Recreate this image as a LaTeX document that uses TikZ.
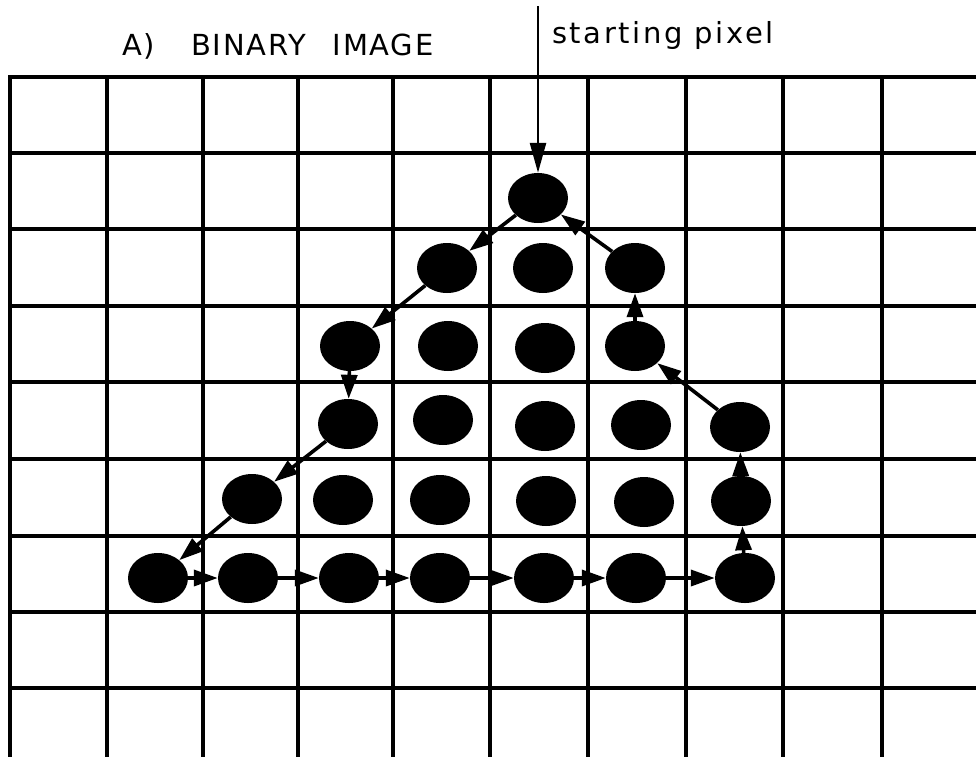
\documentclass[tikz,border=0pt]{standalone}
\usepackage{fontspec}
\setmainfont{DejaVu Sans}
\newfontfamily\titlefont[LetterSpace=6]{DejaVu Sans}
\newfontfamily\labelfont[LetterSpace=9]{DejaVu Sans}
\usetikzlibrary{arrows.meta,shapes.geometric}
\begin{document}
\begin{tikzpicture}[x=1pt,y=-1pt,
  gridline/.style={line width=3.2pt},
  pix/.style={ellipse,fill=black,minimum width=60pt,minimum height=50pt,inner sep=0pt},
  link/.style={line width=3.6pt,-{Triangle[length=24pt,width=16pt]}},
  startlink/.style={line width=2.6pt,-{Triangle[length=30pt,width=16pt]}},
  lbl/.style={anchor=base west,inner sep=0pt}]
\useasboundingbox (0,0) rectangle (976,763);
% grid
\foreach \x in {10,107,203,298,393,490,588,686,783,882}
  \draw[gridline] (\x,75) -- (\x,757);
\foreach \y in {77,153,229,306,382,459,536,612,688}
  \draw[gridline] (10,\y) -- (976,\y);
% labels
\node[lbl,font=\titlefont\fontsize{29}{32}\selectfont] (title) at (122,55) {A)\hspace{36pt}BINARY\hspace{27pt}IMAGE};
\node[lbl,font=\labelfont\fontsize{29}{32}\selectfont] (start) at (552,43) {starting pixel};
% pixels
\node[pix] (p15) at (538,198) {};
\node[pix] (p24) at (447,268) {};
\node[pix] (p25) at (543,268) {};
\node[pix] (p26) at (635,268) {};
\node[pix] (p33) at (350,346) {};
\node[pix] (p34) at (448,346) {};
\node[pix] (p35) at (545,348) {};
\node[pix] (p36) at (635,346) {};
\node[pix] (p43) at (348,424) {};
\node[pix] (p44) at (443,420) {};
\node[pix] (p45) at (545,426) {};
\node[pix] (p46) at (641,425) {};
\node[pix] (p47) at (740,427) {};
\node[pix] (p52) at (252,499) {};
\node[pix] (p53) at (343,500) {};
\node[pix] (p54) at (440,500) {};
\node[pix] (p55) at (546,501) {};
\node[pix] (p56) at (644,502) {};
\node[pix] (p57) at (741,501) {};
\node[pix] (p61) at (158,578) {};
\node[pix] (p62) at (248,578) {};
\node[pix] (p63) at (349,578) {};
\node[pix] (p64) at (440,578) {};
\node[pix] (p65) at (544,578) {};
\node[pix] (p66) at (636,578) {};
\node[pix] (p67) at (745,578) {};
% starting arrow
\coordinate (sp) at (538,6);
\draw[startlink] (sp) -- (p15.north);
% contour
\foreach \a/\b in {p15/p24,p24/p33,p33/p43,p43/p52,p52/p61,p61/p62,p62/p63,p63/p64,p64/p65,p65/p66,p66/p67,p67/p57,p57/p47,p47/p36,p36/p26,p26/p15}
  \draw[link] (\a) -- (\b);
\end{tikzpicture}
\end{document}
